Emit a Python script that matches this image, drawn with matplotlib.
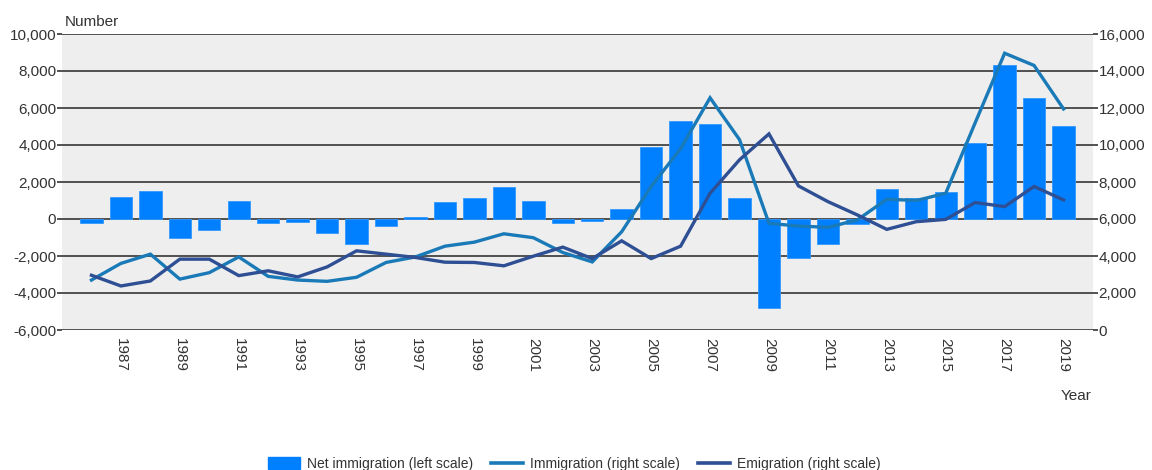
import matplotlib
matplotlib.use("Agg")
import matplotlib.pyplot as plt
from matplotlib.patches import Patch
from matplotlib.lines import Line2D

plt.rcParams['font.family'] = ['Liberation Sans', 'DejaVu Sans']

years = list(range(1986, 2020))
net_immigration = [-200, 1200, 1500, -1000, -600, 1000, -200, -150, -750, -1350,
                   -400, 100, 900, 1150, 1750, 950, -200, -100, 550, 3900,
                   5300, 5150, 1150, -4800, -2100, -1350, -270, 1630, 1150, 1480,
                   4100, 8300, 6550, 5030]
immigration = [2700, 3600, 4100, 2750, 3100, 3950, 2900, 2700, 2630, 2850,
               3650, 3950, 4530, 4750, 5200, 4990, 4190, 3680, 5310, 7760,
               9800, 12550, 10290, 5765, 5620, 5550, 5950, 7070, 7000, 7390,
               11200, 14960, 14300, 11950]
emigration = [2960, 2380, 2650, 3830, 3830, 2940, 3200, 2870, 3410, 4280,
              4100, 3920, 3665, 3650, 3470, 3990, 4480, 3860, 4820, 3860,
              4530, 7390, 9200, 10600, 7790, 6940, 6220, 5440, 5855, 5980,
              6890, 6670, 7760, 7030]
tick_years = list(range(1987, 2020, 2))
left_ticks = list(range(-6000, 10001, 2000))
right_ticks = list(range(0, 16001, 2000))

TEXT = '#333333'
GRID = '#444444'
BAR = '#0080ff'
IMM = '#1a7ab8'
EMI = '#2e4f94'
FS = 11

fig = plt.figure(figsize=(11.52, 4.70), dpi=100)
ax = fig.add_axes([62/1152, 1 - 330/470, (1093-62)/1152, (330-34)/470])
ax.set_facecolor('#eeeeee')
ax.set_xlim(1985, 2020)
ax.set_ylim(-6000, 10000)
ax.set_axisbelow(True)
ax.yaxis.grid(True, color=GRID, linewidth=1.3)
ax.bar(years, net_immigration, width=0.76, color=BAR, edgecolor='#3399ff',
       linewidth=0.6, zorder=2)
ax.set_yticks(left_ticks)
ax.set_yticklabels([f'{v:,}' for v in left_ticks])
ax.set_xticks(tick_years)
ax.set_xticklabels([str(y) for y in tick_years], rotation=270)
ax.tick_params(axis='y', length=3.6, color=GRID, width=1.3, labelsize=FS,
               labelcolor=TEXT, pad=0.5)
ax.tick_params(axis='x', length=0, labelsize=FS, labelcolor=TEXT, pad=6)
for s in ax.spines.values():
    s.set_visible(False)

ax2 = ax.twinx()
ax2.set_ylim(0, 16000)
ax2.plot(years, immigration, color=IMM, linewidth=2.4, zorder=3,
         solid_joinstyle='miter')
ax2.plot(years, emigration, color=EMI, linewidth=2.4, zorder=3,
         solid_joinstyle='miter')
ax2.set_yticks(right_ticks)
ax2.set_yticklabels([f'{v:,}' for v in right_ticks])
ax2.tick_params(axis='y', length=3.6, color=GRID, width=1.3, labelsize=FS,
                labelcolor=TEXT, pad=0.5)
for s in ax2.spines.values():
    s.set_visible(False)

fig.text(65/1152, 1 - 22/470, 'Number', fontsize=FS, color=TEXT,
         ha='left', va='center')
fig.text(1092/1152, 1 - 396/470, 'Year', fontsize=FS, color=TEXT,
         ha='right', va='center')

handles = [Patch(facecolor=BAR, edgecolor=BAR),
           Line2D([0], [0], color=IMM, linewidth=2.6),
           Line2D([0], [0], color=EMI, linewidth=2.6)]
labels = ['Net immigration (left scale)', 'Immigration (right scale)',
          'Emigration (right scale)']
leg = fig.legend(handles, labels, loc='center', ncol=3,
                 bbox_to_anchor=(574/1152, 1 - 464/470), frameon=False,
                 fontsize=10, handlelength=2.3, handleheight=0.9,
                 columnspacing=1.3, handletextpad=0.5, labelcolor=TEXT)

fig.savefig('out.png', dpi=100)
